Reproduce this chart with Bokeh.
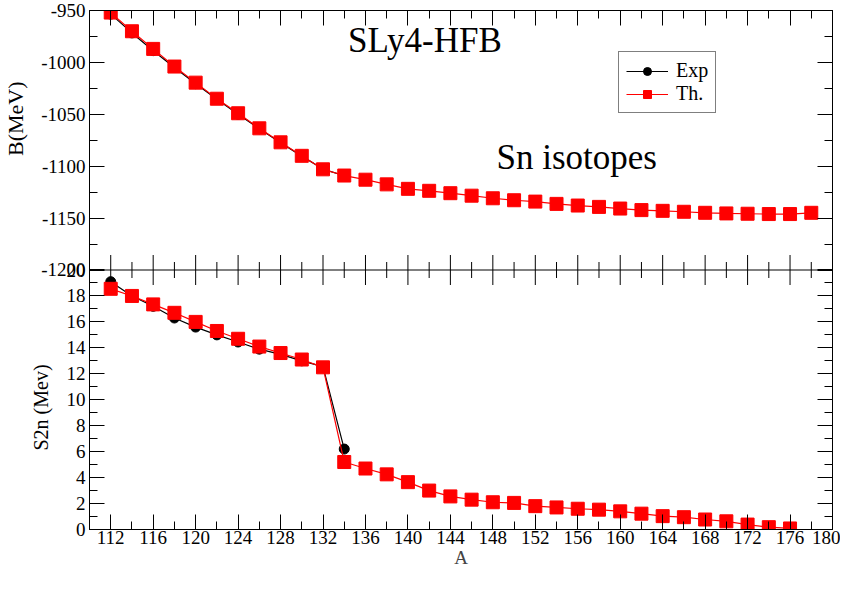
import math
from bokeh.plotting import figure
from bokeh.models import (Range1d, LinearAxis, FixedTicker, Legend, LegendItem, Label,
                          Span, CustomJSTickFormatter, Title)
from bokeh.embed import file_html
from bokeh.resources import INLINE

# ---------------- data ----------------
A_th_B = list(range(112, 180, 2))
B_th = [-952, -970, -987, -1004, -1019.5, -1035, -1049, -1063.5, -1077, -1090,
        -1103, -1109, -1113, -1117.5, -1121.8, -1123.7, -1126, -1128.4, -1130.9,
        -1132.8, -1134.1, -1136.3, -1137.9, -1139.2, -1140.8, -1142.3, -1143,
        -1143.9, -1144.9, -1145.5, -1145.8, -1146.1, -1146.1, -1144.9]
A_exp = list(range(112, 136, 2))
B_exp = [-953.5, -971.6, -988.7, -1004.9, -1020.5, -1035.5, -1050.0, -1063.9,
         -1077.4, -1090.3, -1102.8, -1109.2]
S2n_exp = [19.1, 18.0, 17.2, 16.3, 15.6, 15.0, 14.45, 13.9, 13.5, 13.0, 12.55, 6.2]
A_th_S = list(range(112, 178, 2))
S2n_th = [18.55, 18.0, 17.35, 16.7, 16.0, 15.3, 14.7, 14.1, 13.6, 13.1, 12.5, 5.2,
          4.7, 4.25, 3.65, 3.0, 2.55, 2.3, 2.1, 2.05, 1.8, 1.7, 1.6, 1.53, 1.4,
          1.22, 1.03, 0.95, 0.77, 0.63, 0.38, 0.18, 0.08]

x_major = list(range(112, 181, 4))
x_minor = list(range(114, 180, 4))
B_major = list(range(-1200, -949, 50))     # labelled B ticks (top panel)
B_minor = list(range(-1175, -974, 50))
S_major = list(range(0, 21, 2))            # labelled S2n ticks (bottom panel)
S_minor = list(range(1, 20, 2))

# top panel: B from -1200 (panel boundary) to -950; bottom panel: S2n 0..20
B_LOW, B_HIGH = -1200, -950
S_HIGH = 20
B_PER_S = (B_HIGH - B_LOW) / S_HIGH        # MeV of B per S2n unit on the shared frame
EPS = 1e-4                                  # B tick at the boundary sits just above S2n's 20


def b_to_s(b):
    return S_HIGH + (b - B_LOW) / B_PER_S + (EPS if b == B_LOW else 0)


FONT = "'Liberation Serif', serif"
TICK_FS = "19px"
NBSP = "\u00a0"

W, H = 840, 573
p = figure(width=W, height=H, x_range=Range1d(110, 180),
           y_range=Range1d(0, 2 * S_HIGH),
           output_backend="svg", toolbar_location=None,
           min_border_left=85, min_border_right=8,
           min_border_top=10, min_border_bottom=44)
p.extra_y_ranges = {"B": Range1d(B_LOW - (B_HIGH - B_LOW), B_HIGH)}
p.grid.visible = False
p.outline_line_color = "black"
p.background_fill_color = "white"
p.border_fill_color = "white"

y_ticks = S_major + [b_to_s(b) for b in B_major]
y_minor = S_minor + [b_to_s(b) for b in B_minor]


def style_axis(ax, major, minor, labels=True):
    ax.ticker = FixedTicker(ticks=major, minor_ticks=minor)
    ax.major_tick_in = 15
    ax.major_tick_out = 0
    ax.minor_tick_in = 8
    ax.minor_tick_out = 0
    ax.axis_line_color = "black"
    ax.major_tick_line_color = "black"
    ax.minor_tick_line_color = "black"
    ax.major_label_text_font = FONT
    if labels:
        ax.major_label_text_color = "black"
        ax.major_label_text_font_size = TICK_FS
        ax.major_label_standoff = 4
    else:
        ax.major_label_text_color = None
        ax.major_label_text_font_size = "1px"
        ax.major_label_standoff = 0


xa = p.xaxis[0]
style_axis(xa, x_major, x_minor)
xa.major_label_standoff = 1
xa.axis_label = "A"
xa.axis_label_text_font = FONT
xa.axis_label_text_font_style = "normal"
xa.axis_label_text_font_size = "19px"
xa.axis_label_standoff = 0

ya = p.yaxis[0]
style_axis(ya, y_ticks, y_minor)
ya.formatter = CustomJSTickFormatter(
    args=dict(s_high=S_HIGH, b_low=B_LOW, b_per_s=B_PER_S),
    code="""
    if (tick <= s_high) { return tick.toFixed(0); }
    return (b_low + (tick - s_high) * b_per_s).toFixed(0);
    """)
# bottom-panel title sits next to the short S2n labels (padding moves it to the lower half)
ya.axis_label = "S2n (Mev)" + NBSP * 55
ya.axis_label_text_font = FONT
ya.axis_label_text_font_style = "normal"
ya.axis_label_text_font_size = "20px"
ya.axis_label_text_color = "black"
ya.axis_label_standoff = -14

for loc, mj, mn in (("right", y_ticks, y_minor), ("above", x_major, x_minor)):
    ax = LinearAxis()
    style_axis(ax, mj, mn, labels=False)
    p.add_layout(ax, loc)

# top-panel title
p.add_layout(Title(text="B(MeV)", align="right", offset=71, standoff=0,
                   text_font=FONT, text_font_size="22px",
                   text_font_style="normal", text_color="black"), "left")

# panel boundary with ticks on both sides
p.add_layout(Span(location=S_HIGH, dimension="width", line_color="black", line_width=1))
p.scatter(x_major, [S_HIGH] * len(x_major), marker="dash", angle=math.pi / 2,
          size=30, line_color="black", line_width=1)
p.scatter(x_minor, [S_HIGH] * len(x_minor), marker="dash", angle=math.pi / 2,
          size=16, line_color="black", line_width=1)

# ---------------- top panel (B) ----------------
le1 = p.line(A_exp, B_exp, y_range_name="B", line_color="black", line_width=1.2)
se1 = p.scatter(A_exp, B_exp, y_range_name="B", marker="circle", size=10,
                fill_color="black", line_color="black")
lt1 = p.line(A_th_B, B_th, y_range_name="B", line_color="red", line_width=1.2)
st1 = p.scatter(A_th_B, B_th, y_range_name="B", marker="square", size=13,
                fill_color="red", line_color="red")

# ---------------- bottom panel (S2n) ----------------
p.line(A_exp, S2n_exp, line_color="black", line_width=1.2)
p.scatter(A_exp, S2n_exp, marker="circle", size=10, fill_color="black", line_color="black")
p.line(A_th_S, S2n_th, line_color="red", line_width=1.2)
p.scatter(A_th_S, S2n_th, marker="square", size=13, fill_color="red", line_color="red")

legend = Legend(items=[LegendItem(label="Exp", renderers=[le1, se1]),
                       LegendItem(label="Th.", renderers=[lt1, st1])],
                location=(529, 416), glyph_width=42, glyph_height=20,
                label_text_font=FONT, label_text_font_size="20px",
                label_text_color="black", border_line_color="black",
                border_line_width=1, background_fill_alpha=1.0,
                padding=7, spacing=0, margin=0, label_standoff=8)
p.add_layout(legend, "center")

# texts
p.add_layout(Label(x=141.6, y=-978.5, y_range_name="B", text="SLy4-HFB", text_font=FONT,
                   text_font_size="35px", text_align="center",
                   text_baseline="middle", text_color="black"))
p.add_layout(Label(x=155.9, y=-1092, y_range_name="B", text="Sn isotopes", text_font=FONT,
                   text_font_size="35px", text_align="center",
                   text_baseline="middle", text_color="black"))

open("out.html", "w").write(file_html(p, INLINE))
